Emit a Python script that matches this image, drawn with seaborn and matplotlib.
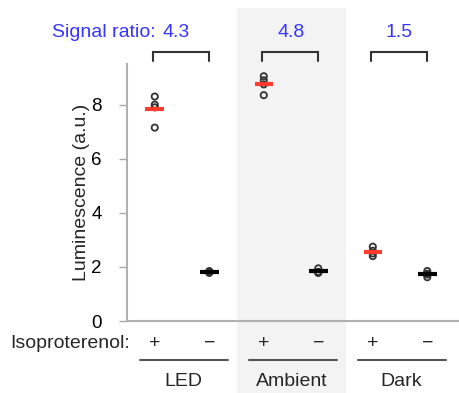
import numpy as np
import pandas as pd
import matplotlib
matplotlib.use("Agg")
import matplotlib.pyplot as plt
import seaborn as sns

# -----------------------------------
# DATA
# -----------------------------------

groups = ["LED", "Ambient", "Dark"]
treatments = ["+", "\u2212"]
ratios = ["4.3", "4.8", "1.5"]

led_plus = [8.3, 8.0, 7.9, 7.15]
led_minus = [1.85, 1.82, 1.80, 1.78]
ambient_plus = [9.05, 8.9, 8.75, 8.35]
ambient_minus = [1.95, 1.82, 1.80, 1.78]
dark_plus = [2.75, 2.6, 2.5, 2.4]
dark_minus = [1.85, 1.75, 1.72, 1.62]

values = [led_plus, led_minus, ambient_plus, ambient_minus, dark_plus, dark_minus]
conditions = [g + " " + t for g in groups for t in treatments]

rows = []
for cond, vals in zip(conditions, values):
    for v in vals:
        rows.append({"condition": cond, "lum": v})
df = pd.DataFrame(rows)

# -----------------------------------
# PLOT
# -----------------------------------

sns.set_style("white")
plt.rcParams["font.family"] = ["Liberation Sans", "DejaVu Sans"]

fig = plt.figure(figsize=(4.6, 3.93), dpi=100)
ax = fig.add_axes([0.276, 0.183, 0.724, 0.654])

# grey band behind the Ambient group, running over the whole figure height
ax.axvspan(1.5, 3.5, ymin=-0.3, ymax=1.22, color="#f3f3f3", zorder=0, clip_on=False, lw=0)

sns.stripplot(data=df, x="condition", y="lum", order=conditions, jitter=False,
              color="#333333", size=4.5, linewidth=1.3, edgecolor="#333333", ax=ax, zorder=3)
for coll in ax.collections:
    coll.set_facecolor("none")

# mean lines
for i, vals in enumerate(values):
    c = "#ff3b30" if i % 2 == 0 else "black"
    ax.hlines(np.mean(vals), i - 0.17, i + 0.17, color=c, lw=3, zorder=4)

fs = 14
ax.set_xlim(-0.51, 5.6)
ax.set_ylim(0, 9.5)
ax.set_yticks([0, 2, 4, 6, 8])
ax.set_xticks([])
ax.set_xlabel("")
ax.set_ylabel("Luminescence (a.u.)", fontsize=fs, labelpad=1)
ax.tick_params(axis="y", direction="out", length=6, width=1, color="#aaaaaa",
               labelsize=13.5, pad=12, left=True, labelcolor="black")

for side in ["top", "right"]:
    ax.spines[side].set_visible(False)
for side in ["left", "bottom"]:
    ax.spines[side].set_color("#b0b0b0")
    ax.spines[side].set_linewidth(1.5)

# brackets and signal ratios
blue = "#3535ff"
for g in range(3):
    x0, x1 = 2 * g - 0.04, 2 * g + 1.0
    ax.plot([x0, x0, x1, x1], [9.6, 9.96, 9.96, 9.6], color="#333333", lw=1.5,
            clip_on=False, solid_joinstyle="miter")
xs_ratio = [0.4, 2.5, 4.49]
for x, r in zip(xs_ratio, ratios):
    ax.text(x, 10.67, r, color=blue, fontsize=fs, ha="center", va="center", clip_on=False)
ax.text(0.02, 10.67, "Signal ratio:", color=blue, fontsize=fs, ha="right", va="center")

# treatment row and group labels
ax.text(-0.46, -0.82, "Isoproterenol:", fontsize=fs, ha="right", va="center")
for i, cond in enumerate(conditions):
    ax.text(i, -0.82, treatments[i % 2], fontsize=fs, ha="center", va="center")
for g, name in enumerate(groups):
    ax.plot([2 * g - 0.27, 2 * g + 1.35], [-1.45, -1.45], color="#555555", lw=1.5, clip_on=False)
    ax.text(2 * g + 0.52, -2.22, name, fontsize=fs, ha="center", va="center")

plt.savefig("out.png", dpi=100)
